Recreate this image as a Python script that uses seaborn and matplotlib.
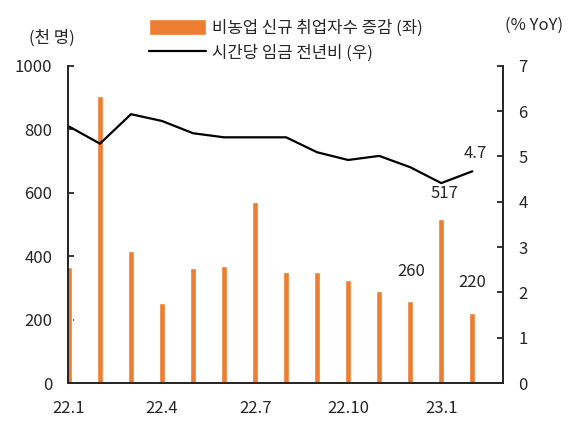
import numpy as np
import pandas as pd
import matplotlib
matplotlib.use("Agg")
import matplotlib.pyplot as plt
import seaborn as sns

months = ["22.1", "22.2", "22.3", "22.4", "22.5", "22.6", "22.7",
          "22.8", "22.9", "22.10", "22.11", "22.12", "23.1", "23.2"]
jobs = [365, 904, 416, 253, 364, 370, 570, 351, 350, 324, 290, 260, 517, 220]
wage = [5.66, 5.28, 5.93, 5.78, 5.51, 5.42, 5.42, 5.42, 5.09, 4.92, 5.01, 4.76, 4.41, 4.67]
tick_months = ["22.1", "22.4", "22.7", "22.10", "23.1"]
labeled_jobs = ["22.12", "23.1", "23.2"]

bar_label = "비농업 신규 취업자수 증감 (좌)"
line_label = "시간당 임금 전년비 (우)"

sns.set_style("ticks")
plt.rcParams["font.family"] = ["Noto Sans CJK KR", "DejaVu Sans"]

ORANGE = "#ED7D31"
df = pd.DataFrame({"month": months, "jobs": jobs, "wage": wage})
df["pos"] = np.arange(len(df))

fig = plt.figure(figsize=(5.8, 4.26), dpi=100)
ax = fig.add_axes([0.1167, 0.1009, 0.7511, 0.7449])
sns.barplot(data=df, x="month", y="jobs", color=ORANGE, saturation=1,
            width=0.2, ax=ax, label=bar_label)
ax2 = ax.twinx()
sns.lineplot(data=df, x="pos", y="wage", color="black", linewidth=1.6,
             ax=ax2, label=line_label, sort=False)

ax.set_xlim(-0.04, len(months))
ax.set_ylim(0, 1000)
ax2.set_ylim(0, 7)
ax.set_yticks(range(0, 1001, 200))
ax2.set_yticks(range(0, 8))
ax.set_xticks([months.index(m) for m in tick_months])
ax.set_xticklabels(tick_months)
ax.set_xlabel("")
ax.set_ylabel("")
ax2.set_ylabel("")

for a in (ax, ax2):
    a.spines["top"].set_visible(False)
    for s in ("left", "right", "bottom"):
        a.spines[s].set_linewidth(1.3)
    a.tick_params(direction="in", length=4, width=1.3, labelsize=12, pad=11)
    a.grid(False)
ax.tick_params(axis="x", pad=12)

if ax.get_legend():
    ax.get_legend().remove()
if ax2.get_legend():
    ax2.get_legend().remove()

# value labels
offsets = {"22.12": (1, 21), "23.1": (2, 18), "23.2": (0, 22)}
for m in labeled_jobs:
    i = months.index(m)
    ax.annotate(f"{jobs[i]}", (i, jobs[i]), xytext=offsets[m],
                textcoords="offset points", ha="center", va="center", fontsize=12)
ax2.annotate(f"{wage[-1]:.1f}", (len(months) - 1, wage[-1]), xytext=(2, 13),
             textcoords="offset points", ha="center", va="center", fontsize=12)

fig.text(52 / 580, 1 - 38 / 426, "(천 명)", ha="center", va="center", fontsize=12)
fig.text(534 / 580, 1 - 25 / 426, "(% YoY)", ha="center", va="center", fontsize=12)

h1, l1 = ax.get_legend_handles_labels()
h2, l2 = ax2.get_legend_handles_labels()
fig.legend(h1 + h2, l1 + l2, loc="upper left",
           bbox_to_anchor=(149 / 580, 1 - 19 / 426), frameon=False,
           fontsize=12, handlelength=3.4, handleheight=1.1,
           handletextpad=0.4, labelspacing=0.45, borderpad=0, borderaxespad=0)

fig.savefig("out.png", dpi=100)
